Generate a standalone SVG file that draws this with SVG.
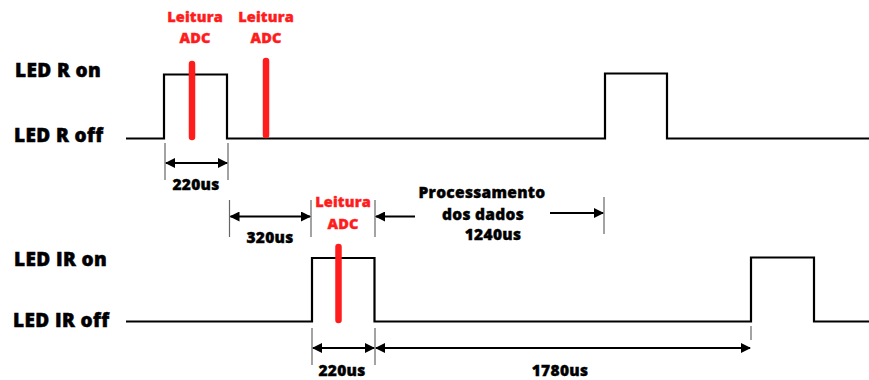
<svg xmlns="http://www.w3.org/2000/svg" width="869" height="380" viewBox="0 0 869 380">
<style>
.lbl{font-family:"Open Sans","Liberation Sans",sans-serif;font-weight:800;font-size:19px;letter-spacing:0.4px;fill:#000;stroke:#000;stroke-width:0.5}
.red{font-family:"Open Sans","Liberation Sans",sans-serif;font-weight:800;font-size:14.5px;letter-spacing:0.2px;fill:#ff1c1c;stroke:#ff1c1c;stroke-width:0.4;text-anchor:middle}
.dim{font-family:"Open Sans","Liberation Sans",sans-serif;font-weight:800;font-size:15.5px;letter-spacing:0.3px;fill:#000;stroke:#000;stroke-width:0.4;text-anchor:middle}
.wave{fill:none;stroke:#000;stroke-width:2.2}
.bar{stroke:#ff1c1c;stroke-width:6.5;stroke-linecap:round}
.tick{stroke:#666;stroke-width:1.2}
.arr{stroke:#000;stroke-width:2.2;fill:none}
</style>
<defs>
<marker id="ah" viewBox="0 0 10 10" refX="9" refY="5" markerWidth="10" markerHeight="10" markerUnits="userSpaceOnUse" orient="auto-start-reverse">
<path d="M0,0 L10,5 L0,10 z" fill="#000"/>
</marker>
</defs>
<rect width="869" height="380" fill="#fff"/>
<g id="labels">
<text class="lbl" x="15" y="77">LED R on</text>
<text class="lbl" x="14" y="142">LED R off</text>
<text class="lbl" x="14" y="266">LED IR on</text>
<text class="lbl" x="13" y="327">LED IR off</text>
</g>
<g id="wave-r"><path class="wave" d="M126,138.5 H164 V74.5 H227 V138.5 H605 V73.5 H667 V138.5 H869"/></g>
<g id="wave-ir"><path class="wave" d="M126,321.5 H312 V258 H374.5 V321.5 H751 V257.5 H814 V321.5 H869"/></g>
<g id="adc1">
<line class="bar" x1="192" y1="64" x2="192" y2="137"/>
<text class="red" x="195" y="22">Leitura</text>
<text class="red" x="195" y="43">ADC</text>
</g>
<g id="adc2">
<line class="bar" x1="266" y1="61" x2="266" y2="135"/>
<text class="red" x="266" y="22">Leitura</text>
<text class="red" x="266" y="43">ADC</text>
</g>
<g id="adc3">
<line class="bar" x1="338.5" y1="247" x2="338.5" y2="320"/>
<text class="red" x="343" y="207">Leitura</text>
<text class="red" x="343" y="229">ADC</text>
</g>
<g id="connectors">
<line class="tick" x1="165" y1="143" x2="165" y2="180"/>
<line class="tick" x1="228" y1="143" x2="228" y2="180"/>
<line class="tick" x1="229.5" y1="200" x2="229.5" y2="237"/>
<line class="tick" x1="311" y1="200" x2="311" y2="237"/>
<line class="tick" x1="375" y1="200" x2="375" y2="237"/>
<line class="tick" x1="604" y1="197" x2="604" y2="234"/>
<line class="tick" x1="312" y1="328" x2="312" y2="365"/>
<line class="tick" x1="375" y1="328" x2="375" y2="365"/>
<line class="tick" x1="751" y1="326" x2="751" y2="340"/>
<line class="arr" x1="166" y1="163" x2="227" y2="163" marker-start="url(#ah)" marker-end="url(#ah)"/>
<line class="arr" x1="230.5" y1="216.5" x2="310" y2="216.5" marker-start="url(#ah)" marker-end="url(#ah)"/>
<line class="arr" x1="376" y1="216.5" x2="415" y2="216.5" marker-start="url(#ah)"/>
<line class="arr" x1="550" y1="213" x2="603" y2="213" marker-end="url(#ah)"/>
<line class="arr" x1="313" y1="348" x2="374" y2="348" marker-start="url(#ah)" marker-end="url(#ah)"/>
<line class="arr" x1="376" y1="348" x2="750" y2="348" marker-start="url(#ah)" marker-end="url(#ah)"/>
</g>
<g id="dims">
<text class="dim" x="196" y="190">220us</text>
<text class="dim" x="270" y="243">320us</text>
<text class="dim" x="482" y="198">Processamento</text>
<text class="dim" x="483" y="220">dos dados</text>
<text class="dim" x="493" y="240">1240us</text>
<text class="dim" x="342" y="376">220us</text>
<text class="dim" x="560" y="376">1780us</text>
</g>
</svg>
